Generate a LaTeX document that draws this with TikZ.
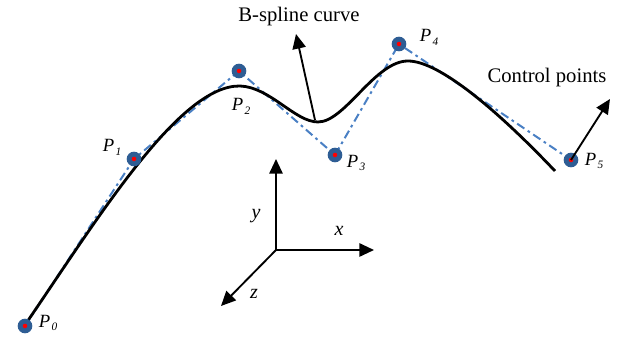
\documentclass[tikz,border=0pt]{standalone}
\usepackage{fontspec}
\setmainfont{Liberation Serif}
\usetikzlibrary{arrows.meta}
\definecolor{dotblue}{HTML}{2E5D94}
\definecolor{polyblue}{HTML}{4A80C4}
\newcommand{\Plab}[1]{\textit{P}\kern1pt\raisebox{-0.45ex}{\fontsize{8.5}{9}\selectfont\textit{#1}}}
\begin{document}
\begin{tikzpicture}[x=0.75pt,y=-0.75pt,
  ctrl/.style={circle,fill=dotblue,minimum size=11pt,inner sep=0pt,
    path picture={\fill[red] (path picture bounding box.center) circle (1.7pt);}},
  plab/.style={font=\fontsize{14}{15}\selectfont,inner sep=0pt},
  poly/.style={polyblue,line width=1.5pt,dash pattern=on 6.5pt off 3pt on 2pt off 3pt},
  curve/.style={black,line width=2.1pt},
  arr/.style={line width=1.4pt,-{Triangle[length=11pt,width=10pt]}},
  lbl/.style={font=\fontsize{15.5}{17}\selectfont,inner sep=0pt},
  axl/.style={font=\fontsize{15}{16}\selectfont\itshape,inner sep=0pt}]
\useasboundingbox (0,0) rectangle (629,341);
% control points (positions)
\coordinate (c0) at (25,326);
\coordinate (c1) at (134,159);
\coordinate (c2) at (239,71);
\coordinate (c3) at (335,155);
\coordinate (c4) at (399,44);
\coordinate (c5) at (571,160);
% control polygon
\draw[poly] (c0) -- (c1) -- (c2) -- (c3) -- (c4) -- (c5);
% curve
\draw[curve] (27,322) .. controls (100,215) and (180,85) .. (240,86)
  .. controls (270,87) and (295,122) .. (318,122)
  .. controls (345,122) and (375,61) .. (408,61)
  .. controls (440,61) and (500,113) .. (555,171);
% dots
\node[ctrl] (p0) at (c0) {};
\node[ctrl] (p1) at (c1) {};
\node[ctrl] (p2) at (c2) {};
\node[ctrl] (p3) at (c3) {};
\node[ctrl] (p4) at (c4) {};
\node[ctrl] (p5) at (c5) {};
% labels
\node[plab] (l0) at (48,323) {\Plab{0}};
\node[plab] (l1) at (112,147) {\Plab{1}};
\node[plab] (l2) at (241,106) {\Plab{2}};
\node[plab] (l3) at (356,163) {\Plab{3}};
\node[plab] (l4) at (429,37) {\Plab{4}};
\node[plab] (l5) at (594,161) {\Plab{5}};
% annotation arrows
\node[lbl] (bs) at (299,17) {B-spline curve};
\coordinate (bsfoot) at (315,120);
\coordinate (bstip) at (296,34);
\draw[arr] (bsfoot) -- (bstip);
\node[lbl] (cp) at (547,78) {Control points};
\coordinate (cptip) at (610,99);
\draw[arr] (p5.center) -- (cptip);
% axes
\coordinate (o) at (276,250);
\coordinate (ya) at (276,159);
\coordinate (xa) at (374,250);
\coordinate (za) at (221,306);
\draw[arr] (o) -- (ya);
\draw[arr] (o) -- (xa);
\draw[arr] (o) -- (za);
\node[axl] (ly) at (256,216) {y};
\node[axl] (lx) at (339,231) {x};
\node[axl] (lz) at (254,294) {z};
\end{tikzpicture}
\end{document}
